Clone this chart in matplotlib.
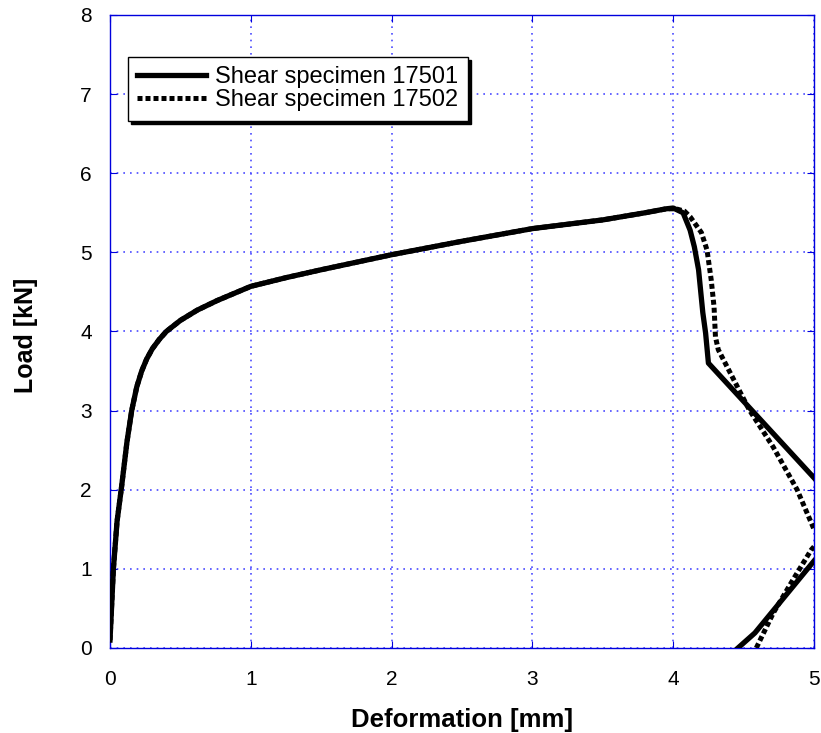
import numpy as np
import matplotlib.pyplot as plt

plt.rcParams["font.family"] = ["Liberation Sans", "DejaVu Sans"]

nan = np.nan

# Shear specimen 17501 (solid)
x_17501 = [0, 0.024, 0.05, 0.083, 0.12, 0.154, 0.19, 0.225, 0.26, 0.3, 0.35, 0.4, 0.45,
           0.5, 0.62, 0.76, 0.92, 1.0, 1.25, 1.5, 2.0, 2.5, 3.0, 3.5, 3.8, 3.95, 4.0,
           4.07, 4.12, 4.15, 4.18, 4.21, 4.23, 4.25, 5.0, nan, 4.46, 4.58, 5.0]
y_17501 = [0.1, 1.0, 1.6, 2.05, 2.6, 3.0, 3.3, 3.5, 3.65, 3.78, 3.9, 4.0, 4.07,
           4.14, 4.27, 4.39, 4.51, 4.57, 4.68, 4.78, 4.97, 5.14, 5.30, 5.41, 5.50, 5.55, 5.56,
           5.50, 5.28, 5.07, 4.78, 4.24, 3.98, 3.60, 2.15, nan, 0.0, 0.19, 1.10]

# Shear specimen 17502 (dotted)
x_17502 = [0, 0.024, 0.05, 0.083, 0.12, 0.154, 0.19, 0.225, 0.26, 0.3, 0.35, 0.4, 0.45,
           0.5, 0.62, 0.76, 0.92, 1.0, 1.25, 1.5, 2.0, 2.5, 3.0, 3.5, 3.8, 3.95, 4.02,
           4.08, 4.12, 4.20, 4.24, 4.27, 4.29, 4.30, 4.32, 4.43, 4.54, 4.71, 4.88, 5.0,
           nan, 4.59, 4.71, 4.85, 4.98, 5.0]
y_17502 = [0.1, 1.0, 1.6, 2.05, 2.6, 3.0, 3.3, 3.5, 3.65, 3.78, 3.9, 4.0, 4.07,
           4.14, 4.27, 4.39, 4.51, 4.57, 4.68, 4.78, 4.97, 5.14, 5.30, 5.41, 5.50, 5.55, 5.55,
           5.52, 5.45, 5.25, 5.03, 4.65, 4.31, 3.93, 3.77, 3.39, 3.01, 2.54, 2.0, 1.50,
           nan, 0.0, 0.44, 0.86, 1.24, 1.28]

blue = "#0000dd"
grid_blue = "#4a4aff"

fig = plt.figure(figsize=(8.21, 7.33), dpi=100)
ax = fig.add_axes([0.134, 0.116, 0.8575, 0.8636])

ax.plot(x_17502, y_17502, color="black", linewidth=3.6, linestyle=(0, (1.0, 0.6)),
        label="Shear specimen 17502", zorder=3)
ax.plot(x_17501, y_17501, color="black", linewidth=3.8, label="Shear specimen 17501",
        zorder=4)

ax.set_xlim(0, 5)
ax.set_ylim(0, 8)
ax.set_xticks(range(0, 6))
ax.set_yticks(range(0, 9))
ax.grid(True, color=grid_blue, linestyle=(0, (1, 3)), linewidth=1.2)
for sp in ax.spines.values():
    sp.set_color(blue)
    sp.set_linewidth(1)
ax.tick_params(direction="in", length=5, color=blue, top=True, right=True,
               labelsize=15)
ax.tick_params(axis="x", pad=16)
ax.tick_params(axis="y", pad=13)

ax.set_xlabel("Deformation [mm]", fontsize=18.5, fontweight="bold", va="center")
ax.set_ylabel("Load [kN]", fontsize=18, fontweight="bold", va="center")
ax.xaxis.set_label_coords(0.5, -0.1137)
ax.yaxis.set_label_coords(-0.119, 0.494)

handles, labels = ax.get_legend_handles_labels()
leg = ax.legend(handles[::-1], labels[::-1], loc="upper left",
                bbox_to_anchor=(0.0256, 0.934), borderaxespad=0,
                fancybox=False, framealpha=1, edgecolor="black", fontsize=17,
                handlelength=2.9, handletextpad=0.4, labelspacing=0.05,
                borderpad=0.4, shadow={"color": "black", "alpha": 1})
leg.get_frame().set_linewidth(1)

fig.savefig("out.png", dpi=100)
